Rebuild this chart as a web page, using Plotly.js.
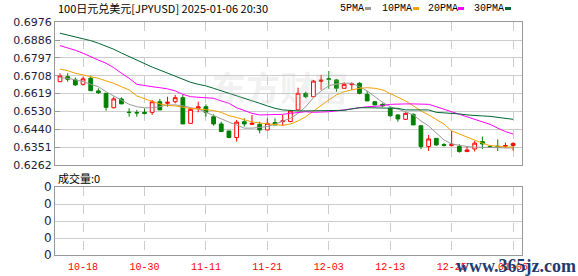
<!DOCTYPE html>
<html><head><meta charset="utf-8">
<script src="https://cdn.plot.ly/plotly-3.0.1.min.js"></script>
<style>html,body{margin:0;padding:0;background:#fff}#c{width:578px;height:276px}</style>
</head><body><div id="c"></div>
<script>
const dates = ["10-15","10-16","10-17","10-18","10-21","10-22","10-23","10-24","10-25","10-28",
"10-29","10-30","10-31","11-01","11-04","11-05","11-06","11-07","11-08","11-11",
"11-12","11-13","11-14","11-15","11-18","11-19","11-20","11-21","11-22","11-25",
"11-26","11-27","11-28","11-29","12-02","12-03","12-04","12-05","12-06","12-09",
"12-10","12-11","12-12","12-13","12-16","12-17","12-18","12-19","12-20","12-23",
"12-24","12-25","12-26","12-27","12-30","12-31","01-01","01-02","01-03","01-06"];

const openP = [0.6678,0.6703,0.6687,0.6665,0.6695,0.6632,0.6620,0.6548,0.6592,0.6526,
0.6524,0.6525,0.6525,0.6578,0.6570,0.6578,0.6598,0.6470,0.6545,0.6553,
0.6503,0.6467,0.6432,0.6399,0.6478,0.6465,0.6465,0.6437,0.6474,0.6479,
0.6479,0.6537,0.6620,0.6603,0.6680,0.6693,0.6687,0.6645,0.6663,0.6670,
0.6615,0.6578,0.6565,0.6545,0.6512,0.6490,0.6515,0.6458,0.6354,0.6395,
0.6364,0.6359,0.6354,0.6329,0.6342,0.6379,0.6354,0.6356,0.6356,0.6359];
const highP = [0.6720,0.6720,0.6698,0.6703,0.6708,0.6645,0.6622,0.6603,0.6600,0.6545,
0.6537,0.6545,0.6587,0.6592,0.6603,0.6612,0.6612,0.6548,0.6578,0.6565,
0.6515,0.6478,0.6432,0.6487,0.6495,0.6512,0.6478,0.6495,0.6495,0.6512,
0.6537,0.6648,0.6628,0.6687,0.6712,0.6731,0.6692,0.6675,0.6675,0.6675,
0.6632,0.6582,0.6570,0.6553,0.6515,0.6525,0.6520,0.6462,0.6412,0.6395,
0.6371,0.6432,0.6366,0.6354,0.6382,0.6404,0.6362,0.6390,0.6374,0.6376];
const lowP = [0.6678,0.6678,0.6657,0.6658,0.6633,0.6617,0.6533,0.6545,0.6567,0.6503,
0.6503,0.6515,0.6512,0.6537,0.6553,0.6570,0.6467,0.6470,0.6525,0.6503,
0.6458,0.6429,0.6399,0.6379,0.6454,0.6462,0.6420,0.6437,0.6462,0.6458,
0.6476,0.6537,0.6595,0.6603,0.6637,0.6642,0.6628,0.6645,0.6637,0.6615,
0.6582,0.6562,0.6553,0.6503,0.6478,0.6487,0.6462,0.6341,0.6332,0.6359,
0.6354,0.6354,0.6324,0.6329,0.6329,0.6342,0.6347,0.6332,0.6347,0.6334];
const closeP = [0.6707,0.6690,0.6662,0.6692,0.6633,0.6623,0.6550,0.6592,0.6567,0.6524,
0.6522,0.6520,0.6578,0.6537,0.6575,0.6598,0.6467,0.6540,0.6553,0.6525,
0.6467,0.6429,0.6399,0.6476,0.6467,0.6470,0.6437,0.6470,0.6462,0.6482,
0.6532,0.6620,0.6603,0.6681,0.6685,0.6689,0.6645,0.6665,0.6667,0.6620,
0.6582,0.6562,0.6557,0.6508,0.6492,0.6520,0.6462,0.6354,0.6392,0.6362,
0.6360,0.6366,0.6329,0.6337,0.6371,0.6367,0.6350,0.6352,0.6359,0.6369];

const ma5 = [0.6698,0.6695,0.6687,0.6678,0.6665,0.6653,0.6628,0.6608,0.6587,0.6565,
0.6553,0.6548,0.6548,0.6553,0.6562,0.6562,0.6558,0.6548,0.6542,0.6525,
0.6512,0.6492,0.6476,0.6462,0.6446,0.6446,0.6449,0.6454,0.6466,0.6479,
0.6495,0.6520,0.6553,0.6598,0.6632,0.6657,0.6667,0.6670,0.6670,0.6653,
0.6632,0.6603,0.6575,0.6553,0.6542,0.6528,0.6512,0.6482,0.6457,0.6421,
0.6387,0.6367,0.6359,0.6354,0.6351,0.6351,0.6349,0.6349,0.6347,0.6347];
const ma10 = [0.6741,0.6733,0.6720,0.6712,0.6703,0.6695,0.6682,0.6670,0.6653,0.6637,
0.6607,0.6592,0.6579,0.6567,0.6559,0.6557,0.6549,0.6544,0.6542,0.6539,
0.6534,0.6525,0.6508,0.6499,0.6487,0.6477,0.6472,0.6467,0.6462,0.6460,
0.6467,0.6482,0.6503,0.6532,0.6558,0.6587,0.6612,0.6628,0.6637,0.6645,
0.6648,0.6645,0.6637,0.6620,0.6603,0.6582,0.6558,0.6532,0.6512,0.6487,
0.6466,0.6432,0.6416,0.6399,0.6386,0.6371,0.6359,0.6354,0.6352,0.6352];
const ma20 = [0.6858,0.6848,0.6835,0.6820,0.6805,0.6786,0.6770,0.6748,0.6720,0.6695,
0.6665,0.6658,0.6653,0.6648,0.6642,0.6632,0.6615,0.6603,0.6600,0.6598,
0.6595,0.6582,0.6570,0.6548,0.6532,0.6520,0.6512,0.6512,0.6512,0.6515,
0.6520,0.6525,0.6528,0.6525,0.6525,0.6528,0.6532,0.6537,0.6545,0.6550,
0.6553,0.6555,0.6558,0.6565,0.6567,0.6567,0.6567,0.6567,0.6565,0.6553,
0.6542,0.6528,0.6515,0.6503,0.6492,0.6478,0.6465,0.6446,0.6429,0.6417];
const ma30 = [0.6920,0.6911,0.6901,0.6893,0.6883,0.6870,0.6856,0.6840,0.6821,0.6803,
0.6783,0.6766,0.6751,0.6736,0.6720,0.6703,0.6687,0.6675,0.6665,0.6657,
0.6645,0.6633,0.6620,0.6608,0.6598,0.6585,0.6570,0.6557,0.6545,0.6537,
0.6533,0.6532,0.6532,0.6532,0.6533,0.6533,0.6534,0.6535,0.6542,0.6548,
0.6548,0.6548,0.6548,0.6548,0.6545,0.6537,0.6537,0.6537,0.6537,0.6525,
0.6523,0.6520,0.6517,0.6512,0.6508,0.6507,0.6505,0.6500,0.6495,0.6490];
const volume = new Array(dates.length).fill(0);

const priceTicks = ["0.6262","0.6351","0.6440","0.6530","0.6619","0.6708","0.6797","0.6886","0.6976"];
const dateTicks = ["10-18","10-30","11-11","11-21","12-03","12-13","12-25","01-06"];
const volTicks = ["0","0","0","0","0"];
const maNames = ["5PMA","10PMA","20PMA","30PMA"];
const maColors = ["#999999","#f5a000","#ff00ff","#006633"];

const W=578,H=276;
const px=x=>x/W, py=y=>1-y/H;
const xRange=[-0.65,60.16];
const axFont={family:"DejaVu Sans",size:11,color:"#1c1c3c"};

const traces=[
 {type:"candlestick",x:dates,open:openP,high:highP,low:lowP,close:closeP,xaxis:"x",yaxis:"y",
  increasing:{line:{color:"#ff0000",width:1},fillcolor:"#ffffff"},
  decreasing:{line:{color:"#008000",width:1},fillcolor:"#008000"},
  whiskerwidth:0,hoverinfo:"skip"}
];
[ma5,ma10,ma20,ma30].forEach((m,i)=>traces.push({type:"scatter",mode:"lines",x:dates,y:m,
  line:{color:maColors[i],width:1},xaxis:"x",yaxis:"y",hoverinfo:"skip"}));
traces.push({type:"bar",x:dates,y:volume,xaxis:"x2",yaxis:"y2",marker:{color:"#888"}});

const gridX={tickmode:"array",tickvals:dateTicks,showgrid:true,gridcolor:"#cccccc",griddash:"dash",gridwidth:1,
  showline:true,mirror:true,linecolor:"#999999",linewidth:1,zeroline:false,ticks:"",type:"category",
  range:xRange,rangeslider:{visible:false},fixedrange:true};

const layout={
 width:W,height:H,margin:{l:0,r:0,t:0,b:0},paper_bgcolor:"#fff",plot_bgcolor:"#fff",
 showlegend:false,
 xaxis:Object.assign({},gridX,{domain:[px(55),px(522)],anchor:"y",showticklabels:false}),
 yaxis:{domain:[py(165),py(22)],range:[0.6262,0.6976],tickmode:"array",
   tickvals:priceTicks.map(Number),ticktext:priceTicks,showgrid:true,gridcolor:"#cccccc",
   showline:true,mirror:true,linecolor:"#999999",ticks:"inside",ticklen:5,tickcolor:"#999999",
   zeroline:false,tickfont:axFont,anchor:"x"},
 xaxis2:Object.assign({},gridX,{domain:[px(55),px(522)],anchor:"y2",showticklabels:true,
   tickfont:{family:"Liberation Mono",size:10,color:"#ff0000"},ticklabelstandoff:2}),
 yaxis2:{domain:[py(255),py(187)],range:[0,4],tickmode:"array",tickvals:[0,1,2,3,4],ticktext:volTicks,
   showgrid:true,gridcolor:"#cccccc",showline:true,mirror:true,linecolor:"#999999",ticks:"",
   zeroline:false,tickfont:{family:"DejaVu Sans",size:12,color:"#1c1c3c"},anchor:"x2"},
 annotations:[
  {xref:"paper",yref:"paper",x:px(56),y:py(8),xanchor:"left",yanchor:"middle",showarrow:false,
   text:"100日元兑美元[JPYUSD] 2025-01-06 20:30",font:{family:"Noto Sans CJK SC",size:11,color:"#000"}},
  {xref:"paper",yref:"paper",x:px(56),y:py(178),xanchor:"left",yanchor:"middle",showarrow:false,
   text:"成交量:0",font:{family:"Noto Sans CJK SC",size:11,color:"#000"}},
  {xref:"paper",yref:"paper",x:px(280),y:py(86),xanchor:"center",yanchor:"middle",showarrow:false,
   text:"<b>东方财富</b>",font:{family:"Noto Sans CJK SC",size:34,color:"rgba(200,200,200,0.25)"}},
  {xref:"paper",yref:"paper",x:px(578),y:py(266),xanchor:"right",yanchor:"middle",showarrow:false,
   text:"<b>www.365jz.com</b>",font:{family:"Liberation Serif",size:18,color:"#1f3c6e"}}
 ],
 shapes:[]
};
const legX=[338,380,426,472], swX=[365,413,458,505];
maNames.forEach((n,i)=>{
 layout.annotations.push({xref:"paper",yref:"paper",x:px(legX[i]),y:py(8),xanchor:"left",yanchor:"middle",
   showarrow:false,text:n,font:{family:"Liberation Mono",size:10,color:"#000"}});
 layout.shapes.push({type:"rect",xref:"paper",yref:"paper",x0:px(swX[i]),x1:px(swX[i]+6),y0:py(10),y1:py(7),
   fillcolor:maColors[i],line:{width:0}});
});
Plotly.newPlot("c",traces,layout,{staticPlot:true});
</script></body></html>
